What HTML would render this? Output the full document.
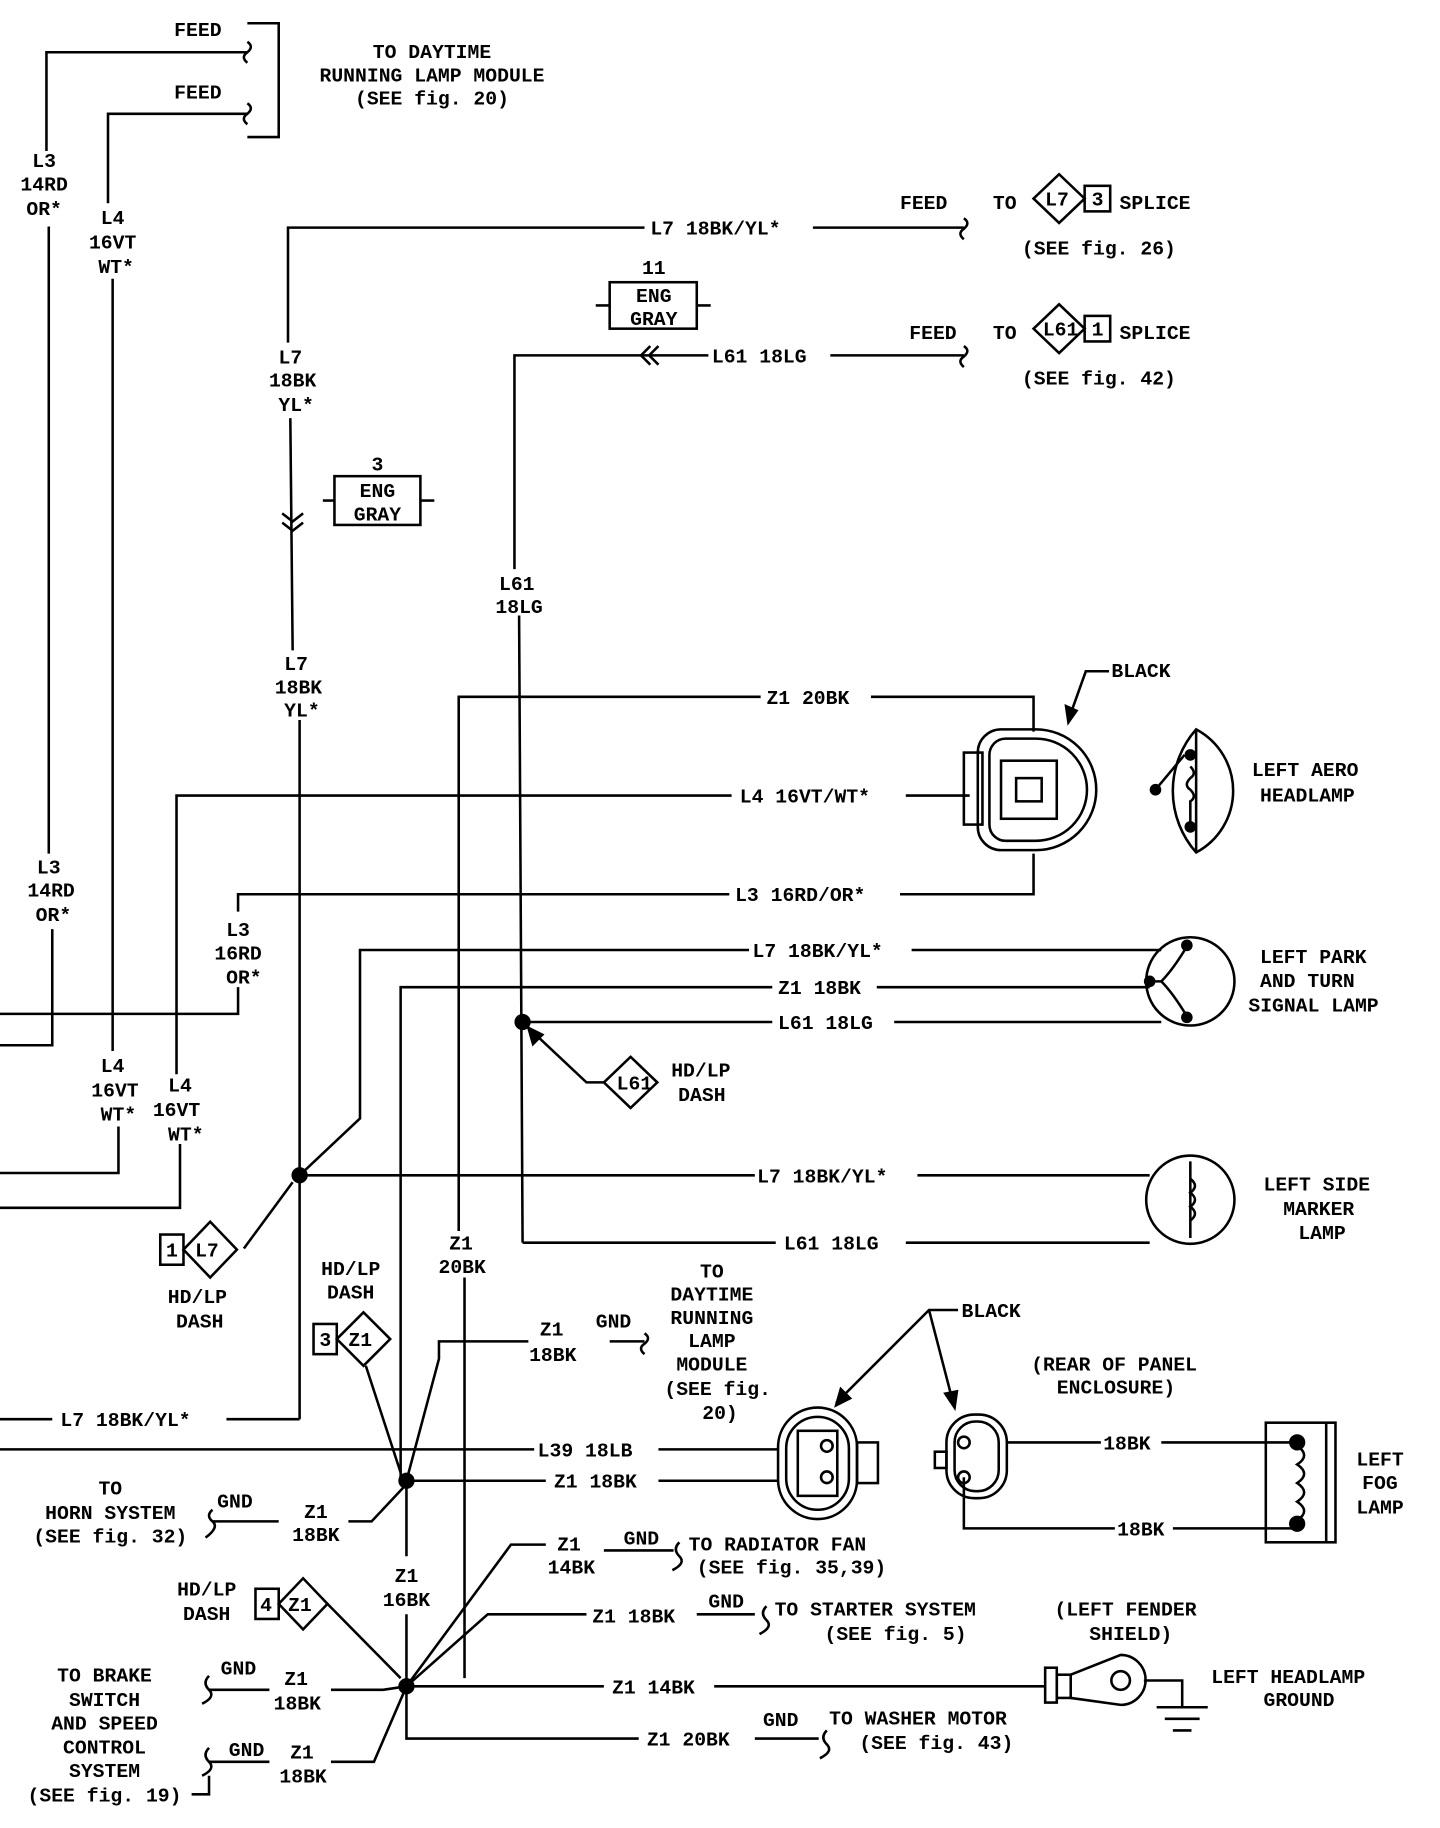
<!DOCTYPE html>
<html><head><meta charset="utf-8"><style>
html,body{margin:0;padding:0;background:#fff;}
svg{display:block}
text{font-family:"Liberation Mono","DejaVu Sans Mono",monospace;font-size:17px;font-weight:bold;fill:#000;}
</style></head><body>
<svg width="1440" height="1828" viewBox="0 0 1240 1574" preserveAspectRatio="none" xmlns="http://www.w3.org/2000/svg">
<g stroke="#000" stroke-width="2.2" fill="none">
<polyline points="213,45 40,45 40,130"/>
<polyline points="42,195 42,735"/>
<polyline points="45,800 45,900 0,900"/>
<polyline points="213,98 93,98 93,175"/>
<polyline points="97,240 97,905"/>
<polyline points="102,970 102,1010 0,1010"/>
<polyline points="213,20 240,20 240,118 213,118"/>
<path d="M213,36 q6,4 0,9 q-6,4 0,9"/><path d="M213,89 q6,4 0,9 q-6,4 0,9"/>
<polyline points="555,196 248,196 248,295"/>
<line x1="700" y1="196" x2="830" y2="196"/>
<path d="M830,188 q6,4 0,9 q-6,4 0,9"/>
<line x1="250" y1="360" x2="252" y2="560"/>
<path d="M243,442 l9,7 l9,-7 M243,450 l9,7 l9,-7"/>
<line x1="258" y1="620" x2="258" y2="1222"/>
<line x1="258" y1="1222" x2="195" y2="1222"/>
<line x1="45" y1="1222" x2="0" y2="1222"/>
<rect x="525" y="243" width="75" height="40"/><line x1="513" y1="263" x2="525" y2="263"/><line x1="600" y1="263" x2="612" y2="263"/>
<rect x="288" y="410" width="74" height="42"/><line x1="278" y1="431" x2="288" y2="431"/><line x1="362" y1="431" x2="374" y2="431"/>
<polyline points="610,306 443,306 443,490"/>
<line x1="715" y1="306" x2="830" y2="306"/>
<path d="M830,298 q6,4 0,9 q-6,4 0,9"/>
<path d="M560,298 l-8,8 l8,8 M567,298 l-8,8 l8,8"/>
<line x1="447" y1="530" x2="450" y2="1070"/>
<line x1="450" y1="1070" x2="668" y2="1070"/>
<line x1="780" y1="1070" x2="990" y2="1070"/>
<polygon points="890,171 912,150 934,171 912,192"/><rect x="934" y="160" width="22" height="22"/>
<polygon points="890,283 912,262 934,283 912,304"/><rect x="934" y="272" width="22" height="22"/>
<polyline points="655,600 395,600 395,1060"/>
<polyline points="750,600 890,600 890,630"/>
<line x1="400" y1="1100" x2="400" y2="1445"/>
<polyline points="630,685 152,685 152,925"/>
<line x1="780" y1="685" x2="835" y2="685"/>
<polyline points="155,985 155,1040 0,1040"/>
<polyline points="628,770 205,770 205,785"/>
<polyline points="775,770 890,770 890,735"/>
<polyline points="205,850 205,873 0,873"/>
<polyline points="645,818 310,818 310,963 258,1012"/>
<line x1="785" y1="818" x2="1000" y2="818"/>
<polyline points="665,850 345,850 345,1275"/>
<line x1="755" y1="850" x2="990" y2="850"/>
<line x1="450" y1="880" x2="665" y2="880"/>
<line x1="770" y1="880" x2="1000" y2="880"/>
<polyline points="520,932 505,932 455,885"/>
<path d="M455,885 l4,14 l8,-8 z" fill="#000"/>
<polygon points="520,932 543,910 566,932 543,954"/>
<line x1="258" y1="1012" x2="650" y2="1012"/>
<line x1="790" y1="1012" x2="990" y2="1012"/>
<path d="M862,628 h30 a52,52 0 0 1 52,52 a52,52 0 0 1 -52,52 h-30 a20,20 0 0 1 -20,-20 v-64 a20,20 0 0 1 20,-20z"/>
<path d="M866,636 h26 a44,44 0 0 1 44,44 a44,44 0 0 1 -44,44 h-26 a14,14 0 0 1 -14,-14 v-60 a14,14 0 0 1 14,-14z"/>
<rect x="830" y="648" width="16" height="62"/>
<rect x="862" y="655" width="48" height="50"/>
<rect x="875" y="670" width="22" height="20"/>
<path d="M1030,628 a60,60 0 0 1 0,106 a80,80 0 0 1 0,-106z"/>
<line x1="1030" y1="628" x2="1030" y2="734"/>
<path d="M995,680 l25,-30 M1025,660 q6,6 0,10 q-6,6 0,10 q6,6 0,10 v10 l0,10"/>
<circle cx="1025" cy="845" r="38"/>
<path d="M1000,845 q10,-10 22,-30 M1000,845 q10,10 22,30 M1000,845 h-10"/>
<circle cx="1025" cy="1033" r="38"/>
<line x1="1025" y1="1000" x2="1025" y2="1066"/>
<path d="M1025,1015 q8,6 0,12 q8,6 0,12 q8,6 0,12"/>
<polyline points="955,578 935,578 920,620"/>
<path d="M920,622 l-2,-14 l9,4z" fill="#000"/>
<rect x="138" y="1063" width="20" height="26"/><polygon points="158,1076 181,1052 204,1076 181,1100"/>
<polyline points="210,1075 252,1018"/>
<rect x="270" y="1140" width="20" height="26"/><polygon points="290,1153 313,1130 336,1153 313,1176"/>
<polyline points="315,1176 345,1268"/>
<rect x="220" y="1368" width="20" height="26"/><polygon points="240,1381 261,1359 282,1381 261,1403"/>
<polyline points="282,1381 345,1445"/>
<polyline points="455,1155 378,1155 378,1170 350,1275"/>
<path d="M555,1148 q6,4 0,9 q-6,4 0,9"/>
<line x1="525" y1="1155" x2="555" y2="1155"/>
<line x1="0" y1="1248" x2="460" y2="1248"/>
<line x1="567" y1="1248" x2="670" y2="1248"/>
<line x1="350" y1="1275" x2="470" y2="1275"/>
<line x1="567" y1="1275" x2="670" y2="1275"/>
<polyline points="350,1278 320,1310 300,1310"/>
<line x1="240" y1="1310" x2="183" y2="1310"/>
<path d="M183,1300 q-6,5 0,10 q6,5 -6,14"/>
<line x1="350" y1="1275" x2="350" y2="1340"/>
<line x1="350" y1="1390" x2="350" y2="1452"/>
<polyline points="350,1452 440,1330 470,1330"/>
<line x1="520" y1="1335" x2="580" y2="1335"/>
<path d="M585,1328 q-6,6 0,12 q6,6 -6,12"/>
<polyline points="350,1452 420,1390 505,1390"/>
<line x1="600" y1="1390" x2="650" y2="1390"/>
<path d="M660,1383 q-6,6 0,12 q6,6 -6,12"/>
<line x1="350" y1="1452" x2="520" y2="1452"/>
<line x1="615" y1="1452" x2="900" y2="1452"/>
<polyline points="350,1452 350,1497 550,1497"/>
<line x1="650" y1="1497" x2="705" y2="1497"/>
<path d="M712,1490 q-6,6 0,12 q6,6 -6,12"/>
<polyline points="350,1452 330,1455 285,1455"/>
<polyline points="350,1452 322,1517 285,1517"/>
<line x1="180" y1="1455" x2="232" y2="1455"/>
<line x1="180" y1="1517" x2="232" y2="1517"/>
<path d="M180,1443 q-6,6 0,12 q6,6 -6,12 M180,1505 q-6,6 0,12 q6,6 -6,12"/>
<polyline points="165,1545 180,1545 180,1529"/>
<rect x="670" y="1212" width="68" height="96" rx="34"/>
<rect x="677" y="1220" width="54" height="80" rx="27"/>
<rect x="687" y="1232" width="34" height="56"/>
<circle cx="712" cy="1245" r="5"/><circle cx="712" cy="1272" r="5"/>
<rect x="738" y="1242" width="18" height="35"/>
<rect x="815" y="1218" width="52" height="72" rx="24"/>
<rect x="822" y="1224" width="38" height="60" rx="18"/>
<circle cx="830" cy="1242" r="5"/><circle cx="830" cy="1272" r="5"/>
<rect x="805" y="1250" width="10" height="14"/>
<line x1="867" y1="1242" x2="948" y2="1242"/>
<line x1="1000" y1="1242" x2="1115" y2="1242"/>
<polyline points="830,1272 830,1316 960,1316"/>
<line x1="1010" y1="1316" x2="1115" y2="1316"/>
<rect x="1090" y="1225" width="60" height="103"/><line x1="1142" y1="1225" x2="1142" y2="1328"/>
<path d="M1117,1245 q12,8 0,16 q12,8 0,16 q12,8 0,16 q12,8 0,16"/>
<polyline points="825,1128 800,1128 720,1208"/>
<polyline points="800,1128 820,1205"/>
<path d="M720,1210 l4,-14 l8,8z M822,1212 l-8,-12 l10,-2z" fill="#000"/>
<rect x="900" y="1436" width="10" height="30"/><rect x="910" y="1442" width="12" height="20"/>
<path d="M922,1442 L965,1425 A20,20 0 0 1 965,1468 L922,1462"/>
<circle cx="965" cy="1447" r="8"/>
<polyline points="985,1447 1018,1447 1018,1470"/>
<line x1="996" y1="1470" x2="1040" y2="1470"/><line x1="1003" y1="1480" x2="1033" y2="1480"/><line x1="1010" y1="1490" x2="1026" y2="1490"/>
</g>
<g fill="#000">
<circle cx="450" cy="880" r="7"/><circle cx="258" cy="1012" r="7"/>
<circle cx="350" cy="1275" r="7"/><circle cx="350" cy="1452" r="7"/>
<circle cx="1117" cy="1242" r="7"/><circle cx="1117" cy="1312" r="7"/>
<circle cx="995" cy="680" r="5"/><circle cx="1025" cy="650" r="5"/><circle cx="1025" cy="712" r="5"/>
<circle cx="990" cy="845" r="5"/><circle cx="1022" cy="814" r="5"/><circle cx="1022" cy="876" r="5"/>
</g>
<g>
<text x="150" y="31">FEED</text><text x="150" y="85">FEED</text>
<text x="372" y="50" text-anchor="middle">TO DAYTIME</text>
<text x="372" y="70" text-anchor="middle">RUNNING LAMP MODULE</text>
<text x="372" y="90" text-anchor="middle">(SEE fig. 20)</text>
<text x="38" y="144" text-anchor="middle">L3</text><text x="38" y="164" text-anchor="middle">14RD</text><text x="38" y="185" text-anchor="middle">OR*</text>
<text x="97" y="193" text-anchor="middle">L4</text><text x="97" y="214" text-anchor="middle">16VT</text><text x="100" y="235" text-anchor="middle">WT*</text>
<text x="560" y="202">L7 18BK/YL*</text>
<text x="775" y="180">FEED</text><text x="855" y="180">TO</text><text x="900" y="177" font-size="15">L7</text><text x="940" y="177" font-size="15">3</text><text x="964" y="180">SPLICE</text>
<text x="880" y="219">(SEE fig. 26)</text>
<text x="563" y="236" text-anchor="middle">11</text><text x="563" y="260" text-anchor="middle">ENG</text><text x="563" y="280" text-anchor="middle">GRAY</text>
<text x="613" y="312">L61 18LG</text>
<text x="783" y="292">FEED</text><text x="855" y="292">TO</text><text x="898" y="289" font-size="15">L61</text><text x="940" y="289" font-size="15">1</text><text x="964" y="292">SPLICE</text>
<text x="880" y="331">(SEE fig. 42)</text>
<text x="250" y="313" text-anchor="middle">L7</text><text x="252" y="333" text-anchor="middle">18BK</text><text x="255" y="354" text-anchor="middle">YL*</text>
<text x="325" y="405" text-anchor="middle">3</text><text x="325" y="428" text-anchor="middle">ENG</text><text x="325" y="448" text-anchor="middle">GRAY</text>
<text x="445" y="508" text-anchor="middle">L61</text><text x="447" y="528" text-anchor="middle">18LG</text>
<text x="255" y="577" text-anchor="middle">L7</text><text x="257" y="597" text-anchor="middle">18BK</text><text x="260" y="617" text-anchor="middle">YL*</text>
<text x="660" y="606">Z1 20BK</text>
<text x="957" y="583">BLACK</text>
<text x="1078" y="668">LEFT AERO</text><text x="1085" y="690">HEADLAMP</text>
<text x="637" y="691">L4 16VT/WT*</text>
<text x="633" y="776">L3 16RD/OR*</text>
<text x="42" y="752" text-anchor="middle">L3</text><text x="44" y="772" text-anchor="middle">14RD</text><text x="46" y="793" text-anchor="middle">OR*</text>
<text x="205" y="806" text-anchor="middle">L3</text><text x="205" y="826" text-anchor="middle">16RD</text><text x="210" y="847" text-anchor="middle">OR*</text>
<text x="648" y="824">L7 18BK/YL*</text>
<text x="670" y="856">Z1 18BK</text>
<text x="670" y="886">L61 18LG</text>
<text x="1085" y="829">LEFT PARK</text><text x="1085" y="850">AND TURN</text><text x="1075" y="871">SIGNAL LAMP</text>
<text x="531" y="938" font-size="15">L61</text>
<text x="578" y="927">HD/LP</text><text x="584" y="948">DASH</text>
<text x="97" y="923" text-anchor="middle">L4</text><text x="99" y="944" text-anchor="middle">16VT</text><text x="102" y="965" text-anchor="middle">WT*</text>
<text x="155" y="940" text-anchor="middle">L4</text><text x="152" y="961" text-anchor="middle">16VT</text><text x="160" y="982" text-anchor="middle">WT*</text>
<text x="652" y="1018">L7 18BK/YL*</text>
<text x="1088" y="1025">LEFT SIDE</text><text x="1105" y="1046">MARKER</text><text x="1118" y="1067">LAMP</text>
<text x="675" y="1076">L61 18LG</text>
<text x="143" y="1082" font-size="15">1</text><text x="168" y="1082" font-size="15">L7</text>
<text x="170" y="1122" text-anchor="middle">HD/LP</text><text x="172" y="1143" text-anchor="middle">DASH</text>
<text x="302" y="1098" text-anchor="middle">HD/LP</text><text x="302" y="1118" text-anchor="middle">DASH</text>
<text x="275" y="1159" font-size="15">3</text><text x="300" y="1159" font-size="15">Z1</text>
<text x="397" y="1076" text-anchor="middle">Z1</text><text x="398" y="1096" text-anchor="middle">20BK</text>
<text x="613" y="1100" text-anchor="middle">TO</text><text x="613" y="1120" text-anchor="middle">DAYTIME</text><text x="613" y="1140" text-anchor="middle">RUNNING</text><text x="613" y="1160" text-anchor="middle">LAMP</text><text x="613" y="1180" text-anchor="middle">MODULE</text><text x="618" y="1201" text-anchor="middle">(SEE fig.</text><text x="620" y="1222" text-anchor="middle">20)</text>
<text x="475" y="1150" text-anchor="middle">Z1</text><text x="476" y="1172" text-anchor="middle">18BK</text>
<text x="513" y="1143">GND</text>
<text x="828" y="1134">BLACK</text>
<text x="888" y="1180">(REAR OF PANEL</text><text x="910" y="1200">ENCLOSURE)</text>
<text x="52" y="1228">L7 18BK/YL*</text>
<text x="463" y="1254">L39 18LB</text>
<text x="477" y="1281">Z1 18BK</text>
<text x="950" y="1248">18BK</text><text x="962" y="1322">18BK</text>
<text x="1168" y="1262">LEFT</text><text x="1173" y="1282">FOG</text><text x="1168" y="1303">LAMP</text>
<text x="95" y="1287" text-anchor="middle">TO</text><text x="95" y="1308" text-anchor="middle">HORN SYSTEM</text><text x="95" y="1328" text-anchor="middle">(SEE fig. 32)</text>
<text x="187" y="1298">GND</text>
<text x="272" y="1307" text-anchor="middle">Z1</text><text x="272" y="1327" text-anchor="middle">18BK</text>
<text x="490" y="1335" text-anchor="middle">Z1</text><text x="492" y="1355" text-anchor="middle">14BK</text>
<text x="537" y="1330">GND</text>
<text x="593" y="1335">TO RADIATOR FAN</text><text x="600" y="1355">(SEE fig. 35,39)</text>
<text x="350" y="1362" text-anchor="middle">Z1</text><text x="350" y="1383" text-anchor="middle">16BK</text>
<text x="178" y="1374" text-anchor="middle">HD/LP</text><text x="178" y="1395" text-anchor="middle">DASH</text>
<text x="224" y="1387" font-size="15">4</text><text x="248" y="1387" font-size="15">Z1</text>
<text x="510" y="1397">Z1 18BK</text>
<text x="610" y="1384">GND</text>
<text x="667" y="1391">TO STARTER SYSTEM</text><text x="710" y="1412">(SEE fig. 5)</text>
<text x="908" y="1391">(LEFT FENDER</text><text x="938" y="1412">SHIELD)</text>
<text x="527" y="1458">Z1 14BK</text>
<text x="1043" y="1449">LEFT HEADLAMP</text><text x="1088" y="1469">GROUND</text>
<text x="90" y="1448" text-anchor="middle">TO BRAKE</text><text x="90" y="1469" text-anchor="middle">SWITCH</text><text x="90" y="1489" text-anchor="middle">AND SPEED</text><text x="90" y="1510" text-anchor="middle">CONTROL</text><text x="90" y="1530" text-anchor="middle">SYSTEM</text><text x="90" y="1551" text-anchor="middle">(SEE fig. 19)</text>
<text x="190" y="1442">GND</text><text x="197" y="1512">GND</text>
<text x="255" y="1451" text-anchor="middle">Z1</text><text x="256" y="1472" text-anchor="middle">18BK</text>
<text x="260" y="1514" text-anchor="middle">Z1</text><text x="261" y="1535" text-anchor="middle">18BK</text>
<text x="557" y="1503">Z1 20BK</text>
<text x="657" y="1486">GND</text>
<text x="714" y="1485">TO WASHER MOTOR</text><text x="740" y="1506">(SEE fig. 43)</text>
</g>
</svg>
</body></html>
